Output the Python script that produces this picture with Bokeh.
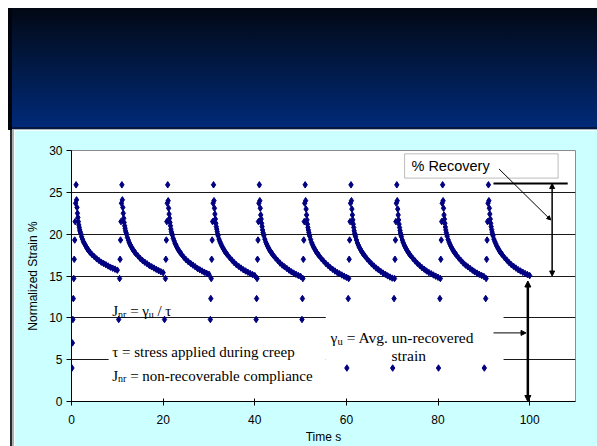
from bokeh.plotting import figure
from bokeh.layouts import column, row
from bokeh.models import (Div, Range1d, FixedTicker, BoxAnnotation, Label,
                          Arrow, NormalHead)
from bokeh.embed import file_html
from bokeh.resources import INLINE

# ---------------- data ----------------
cycle_start = [0, 10, 20, 30, 40, 50, 60, 70, 80, 90]
creep_t = [0.1, 0.2, 0.3, 0.4, 0.5, 0.6, 0.7, 0.8, 0.9, 1.0]
creep_strain = [4.0, 7.0, 9.8, 12.3, 14.7, 17.0, 19.3, 21.5, 23.7, 25.9]
rec_t = [1.1, 1.2, 1.3, 1.4, 1.5, 1.6, 1.7, 1.8, 1.9, 2.0, 2.2, 2.4, 2.6, 2.8,
         3.0, 3.2, 3.4, 3.6, 3.8, 4.0, 4.5, 5.0, 5.5, 6.0, 6.5, 7.0, 7.5, 8.0,
         8.5, 9.0, 9.5, 10.0]
rec_c1 = [24.1, 23.2, 22.5, 22.0, 21.5, 21.1, 20.8, 20.5, 20.3, 20.1, 19.7, 19.4, 19.1, 18.9, 18.7, 18.5,
          18.3, 18.15, 18.0, 17.85, 17.55, 17.3, 17.05, 16.85, 16.65, 16.5, 16.35, 16.2, 16.05, 15.93, 15.82, 15.7]
rec_c2 = [24.1, 23.2, 22.5, 21.9, 21.4, 21.0, 20.7, 20.4, 20.2, 20.0, 19.6, 19.3, 19.0, 18.75, 18.55, 18.35,
          18.15, 18.0, 17.85, 17.7, 17.4, 17.1, 16.85, 16.65, 16.45, 16.25, 16.1, 15.95, 15.8, 15.65, 15.52, 15.4]
rec_c3 = [24.0, 23.1, 22.4, 21.9, 21.4, 21.0, 20.6, 20.3, 20.1, 19.9, 19.5, 19.2, 18.9, 18.7, 18.45, 18.25,
          18.05, 17.9, 17.75, 17.6, 17.25, 16.95, 16.7, 16.5, 16.3, 16.1, 15.9, 15.75, 15.6, 15.45, 15.32, 15.2]
rec_c4 = [24.0, 23.1, 22.4, 21.8, 21.3, 20.9, 20.6, 20.3, 20.0, 19.8, 19.4, 19.1, 18.85, 18.6, 18.4, 18.2,
          18.0, 17.85, 17.7, 17.55, 17.2, 16.9, 16.6, 16.35, 16.15, 15.95, 15.75, 15.6, 15.45, 15.3, 15.17, 15.05]
rec_c5 = [24.0, 23.1, 22.3, 21.8, 21.3, 20.9, 20.5, 20.2, 20.0, 19.8, 19.4, 19.05, 18.8, 18.55, 18.35, 18.15,
          17.95, 17.8, 17.65, 17.5, 17.15, 16.85, 16.55, 16.3, 16.1, 15.9, 15.7, 15.5, 15.35, 15.2, 15.07, 14.95]
rec_c6 = [24.0, 23.0, 22.3, 21.7, 21.2, 20.8, 20.5, 20.2, 19.95, 19.75, 19.35, 19.0, 18.75, 18.5, 18.3, 18.1,
          17.9, 17.75, 17.6, 17.45, 17.1, 16.8, 16.5, 16.25, 16.0, 15.8, 15.6, 15.42, 15.27, 15.12, 14.98, 14.85]
rec_c7 = [24.0, 23.0, 22.3, 21.7, 21.2, 20.8, 20.4, 20.1, 19.9, 19.7, 19.3, 18.95, 18.7, 18.45, 18.25, 18.05,
          17.85, 17.7, 17.55, 17.4, 17.05, 16.75, 16.45, 16.2, 15.95, 15.75, 15.55, 15.35, 15.2, 15.02, 14.88, 14.75]
rec_c8 = [24.0, 23.0, 22.3, 21.7, 21.2, 20.8, 20.45, 20.15, 19.9, 19.7, 19.3, 19.0, 18.72, 18.5, 18.28, 18.08,
          17.9, 17.74, 17.58, 17.44, 17.1, 16.8, 16.5, 16.25, 16.0, 15.8, 15.6, 15.42, 15.27, 15.12, 14.98, 14.85]
rec_c9 = [24.0, 23.1, 22.3, 21.8, 21.3, 20.85, 20.5, 20.2, 19.95, 19.75, 19.35, 19.05, 18.8, 18.55, 18.35, 18.15,
          17.95, 17.8, 17.65, 17.5, 17.15, 16.85, 16.55, 16.3, 16.1, 15.9, 15.7, 15.5, 15.35, 15.2, 15.07, 14.95]
rec_c10 = [24.0, 23.1, 22.4, 21.8, 21.3, 20.9, 20.55, 20.25, 20.0, 19.8, 19.4, 19.1, 18.85, 18.6, 18.4, 18.2,
           18.0, 17.85, 17.7, 17.55, 17.2, 16.9, 16.6, 16.35, 16.15, 15.95, 15.75, 15.6, 15.45, 15.3, 15.17, 15.05]
recovery = [rec_c1, rec_c2, rec_c3, rec_c4, rec_c5, rec_c6, rec_c7, rec_c8, rec_c9, rec_c10]

x_ticks = [0, 20, 40, 60, 80, 100]
y_ticks = [0, 5, 10, 15, 20, 25, 30]
grid_levels = [5, 10, 15, 20, 25]
peak_level = 26.05
unrecovered_level = 15.0

# ---------------- build series ----------------
xs, ys = [], []
for start, rec in zip(cycle_start, recovery):
    xs += [start + t for t in creep_t] + [start + t for t in rec_t]
    ys += creep_strain + rec

SANS = "Liberation Sans"
SERIF = "Liberation Serif"
NB = "\u00a0"

header = Div(text="", width=589, height=122, margin=(0, 0, 0, 0),
             styles={"background": "linear-gradient(to bottom, #020814 0%, #011a48 50%, #002a7a 100%)",
                     "box-shadow": "inset 4px 0 0 #01040c, inset 0 -1px 0 #a6b4b8, inset 0 -3px 0 #061640"})
bevel = Div(text="", width=6, height=316, margin=(0, 0, 0, 0),
            styles={"background": "linear-gradient(to right, #ffffff 0px, #ffffff 2px, #2a2a2a 2px, #2a2a2a 4px, #a8b0b0 4px, #a8b0b0 6px)"})

p = figure(width=583, height=316, x_range=Range1d(0, 110), y_range=Range1d(0, 30),
           output_backend="svg", toolbar_location=None,
           min_border_left=57, min_border_right=22, min_border_top=20, min_border_bottom=45,
           background_fill_color="white", border_fill_color="#ccffff",
           outline_line_color="#8c8c8c")

p.xgrid.visible = False
p.ygrid.ticker = FixedTicker(ticks=grid_levels)
p.ygrid.grid_line_color = "#1a1a1a"
p.ygrid.grid_line_width = 1

p.xaxis.ticker = FixedTicker(ticks=x_ticks)
p.yaxis.ticker = FixedTicker(ticks=y_ticks)
for ax in (p.xaxis[0], p.yaxis[0]):
    ax.axis_line_color = "black"
    ax.major_tick_line_color = "black"
    ax.minor_tick_line_color = None
    ax.major_label_text_font = SANS
    ax.major_label_text_font_size = "12px"
    ax.major_label_text_color = "black"
    ax.axis_label_text_font = SANS
    ax.axis_label_text_font_size = "12px"
    ax.axis_label_text_font_style = "normal"
    ax.axis_label_text_color = "black"
p.xaxis.axis_label = "Time s"
p.xaxis.major_tick_out = 4
p.xaxis.major_tick_in = 3
p.xaxis.major_label_standoff = 9
p.xaxis.axis_label_standoff = 3
p.yaxis.axis_label = "Normalized Strain %"
p.yaxis.major_tick_out = 5
p.yaxis.major_tick_in = 0
p.yaxis.major_label_standoff = 4
p.yaxis.axis_label_standoff = 6

p.scatter(xs, ys, marker="diamond", size=6.5, color="#000080")

# white text boxes covering data/grid
for l, r, b, t in [(8.1, 23.8, 10.5, 13.2), (8.1, 55.5, 1.9, 9.1), (55.5, 94.3, 4.65, 11.7)]:
    p.add_layout(BoxAnnotation(left=l, right=r, bottom=b, top=t, fill_color="white",
                               fill_alpha=1, line_color=None))
p.add_layout(BoxAnnotation(left=72.7, right=106.2, bottom=26.7, top=29.6, fill_color="white",
                           fill_alpha=1, line_color="#222222", line_width=1))

def lab(x, y, text, font, size, dx=0, dy=0, align="left", baseline="alphabetic"):
    p.add_layout(Label(x=x, y=y, text=text, text_font=font, text_font_size=size,
                       x_offset=dx, y_offset=dy, text_align=align,
                       text_baseline=baseline, text_color="black"))

# % Recovery
lab(74.2, 28.1, "% Recovery", SANS, "14.5px", baseline="middle")

# left formula lines
lab(8.9, 10.79, "J", SERIF, "15px")
lab(8.9, 10.79, "nr", SERIF, "10px", dx=5.8, dy=-3)
lab(8.9, 10.79, NB + "=" + NB + "\u03b3", SERIF, "15px", dx=14.1)
lab(8.9, 10.79, "u", SERIF, "10px", dx=36.4, dy=-3)
lab(8.9, 10.79, NB + "/" + NB + "\u03c4", SERIF, "15px", dx=41.4)

lab(8.9, 5.89, "\u03c4 = stress applied during creep", SERIF, "15px")

lab(8.9, 3.1, "J", SERIF, "15px")
lab(8.9, 3.1, "nr", SERIF, "10px", dx=5.8, dy=-3)
lab(8.9, 3.1, NB + "= non-recoverable compliance", SERIF, "15px", dx=14.1)

# gamma_u text
lab(56.55, 7.61, "\u03b3", SERIF, "15.5px")
lab(56.55, 7.61, "u", SERIF, "10.5px", dx=6.8, dy=-3.5)
lab(56.55, 7.61, NB + "= Avg. un-recovered", SERIF, "15.5px", dx=12.2)
lab(73.6, 5.5, "strain", SERIF, "15.5px", align="center")

def head(s):
    return NormalHead(size=s, fill_color="black", line_color="black")

# peak horizontal line
p.add_layout(Arrow(x_start=92.1, y_start=peak_level, x_end=108.3, y_end=peak_level,
                   start=None, end=None, line_width=2, line_color="black"))
# recovery double arrow
p.add_layout(Arrow(x_start=104.9, y_start=unrecovered_level, x_end=104.9, y_end=peak_level,
                   start=head(5), end=head(5), line_width=1.5, line_color="black"))
# leader from % Recovery box
p.add_layout(Arrow(x_start=93.3, y_start=27.8, x_end=104.6, y_end=21.7,
                   end=head(4), line_width=1, line_color="black"))
# un-recovered double arrow
p.add_layout(Arrow(x_start=99.6, y_start=0.0, x_end=99.6, y_end=14.4,
                   start=head(6), end=head(6), line_width=2.5, line_color="black"))
# arrow from gamma_u text
p.add_layout(Arrow(x_start=92.1, y_start=8.2, x_end=99.2, y_end=8.2,
                   end=head(5), line_width=1, line_color="black"))

layout = column(header, row(bevel, p, spacing=0), spacing=0, margin=(8, 0, 0, 8))
open("out.html", "w").write(file_html(layout, INLINE))
